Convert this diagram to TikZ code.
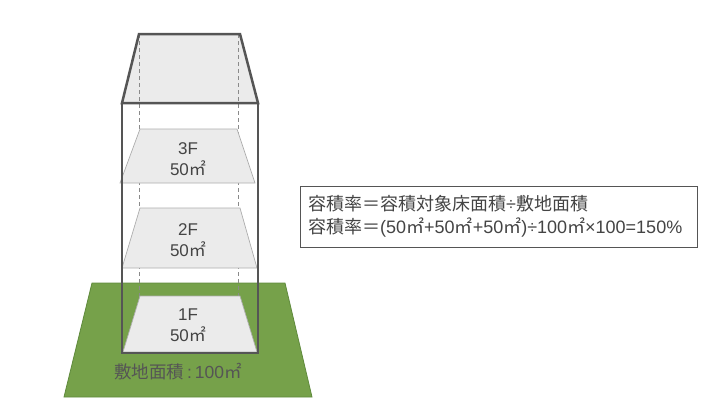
\documentclass[tikz,border=0pt]{standalone}
\usepackage{fontspec}
\setmainfont{Liberation Sans}
\newfontfamily\cjk{Noto Sans CJK JP}
\definecolor{txt}{HTML}{444444}
\definecolor{ground}{HTML}{76A14A}
\definecolor{groundedge}{HTML}{5F8A3C}
\definecolor{floorfill}{HTML}{EBEBEB}
\definecolor{edge}{HTML}{555555}
\definecolor{dash}{HTML}{8A8A8A}
\newcommand{\sqm}{{\cjk ㎡}}
\begin{document}
\begin{tikzpicture}[x=1pt,y=-1pt,
  floorstyle/.style={fill=floorfill,draw=dash!70,line width=0.7pt},
  dashline/.style={draw=dash,dashed,dash pattern=on 4pt off 3pt,line width=0.8pt},
  wall/.style={draw=edge,line width=2.5pt,line join=miter},
  label/.style={text=txt,font=\fontsize{17}{20}\selectfont,align=center,inner sep=0pt}]
\useasboundingbox (0,0) rectangle (720,405);
% ground
\path[fill=ground,draw=groundedge,line width=0.8pt] (92,283) -- (285,283) -- (312,397) -- (64,397) -- cycle;
% dashed verticals
\coordinate (dlt) at (139,34); \coordinate (dlb) at (139,353);
\coordinate (drt) at (238,34); \coordinate (drb) at (238,353);
\draw[dashline] (dlt) -- (dlb);
\draw[dashline] (drt) -- (drb);
% floors
\path[floorstyle] (140,129) -- (237,129) -- (255,183) -- (120,183) -- cycle;
\path[floorstyle] (140,208) -- (240,208) -- (257,268) -- (122,268) -- cycle;
\path[floorstyle] (140,296) -- (240,296) -- (257,352) -- (123,352) -- cycle;
% box
\draw[wall] (122,103) rectangle (258,353);
% roof
\path[fill=floorfill] (139,34) -- (240,34) -- (258,103) -- (122,103) -- cycle;
\draw[dashline] (139,34) -- (139,103);
\draw[dashline] (238,34) -- (238,103);
\draw[wall] (122,103) -- (139,34) -- (240,34) -- (258,103) -- cycle;
% labels
\node[label] (f3) at (188,159) {3F\\[1pt]50\sqm};
\node[label] (f2) at (188,240) {2F\\[1pt]50\sqm};
\node[label] (f1) at (188,325) {1F\\[1pt]50\sqm};
\node[label,text=edge,font=\fontsize{17.5}{20}\selectfont] (site) at (178,372) {{\cjk 敷地面積}\,:\,100\sqm};
% formula box
\node[draw=edge,line width=0.9pt,fill=white,minimum width=397pt,minimum height=61pt,inner sep=0pt] (box) at (498.5,216.5) {};
\node[label,align=left,anchor=west,font=\fontsize{18}{23}\selectfont] (formula) at (308,216.5)
 {{\cjk 容積率＝容積対象床面積}÷{\cjk 敷地面積}\\
  {\cjk 容積率＝}(50\sqm+50\sqm+50\sqm)÷100\sqm×100=150\%};
\end{tikzpicture}
\end{document}
